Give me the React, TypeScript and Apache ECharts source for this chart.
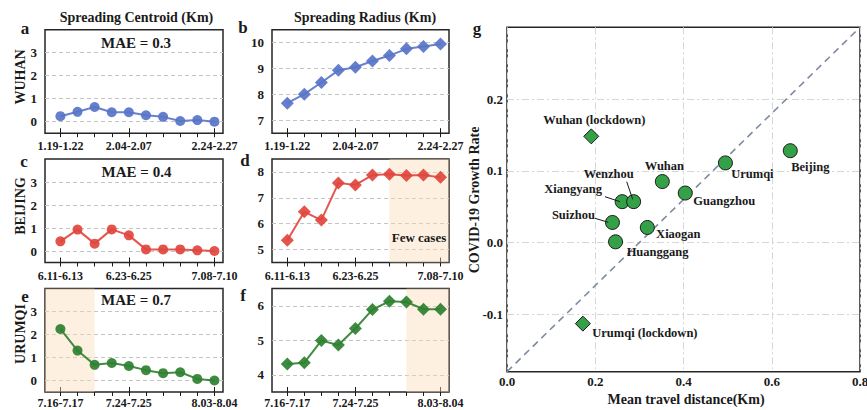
import React, { useEffect, useRef } from 'react';
import * as echarts from 'echarts';

// ---------- data ----------
const periodIndex = [0, 1, 2, 3, 4, 5, 6, 7, 8, 9];
const labelIndex = [0, 4, 9];
const wuhanPeriods = ['1.19-1.22', '2.04-2.07', '2.24-2.27'];
const beijingPeriods = ['6.11-6.13', '6.23-6.25', '7.08-7.10'];
const urumqiPeriods = ['7.16-7.17', '7.24-7.25', '8.03-8.04'];

const wuhanCentroid = [0.24, 0.43, 0.64, 0.41, 0.41, 0.28, 0.21, 0.03, 0.07, 0.0];
const wuhanRadius = [7.66, 8.01, 8.46, 8.93, 9.05, 9.29, 9.5, 9.76, 9.85, 9.95];
const beijingCentroid = [0.42, 0.93, 0.32, 0.94, 0.68, 0.07, 0.07, 0.07, 0.03, 0.0];
const beijingRadius = [5.36, 6.46, 6.14, 7.57, 7.5, 7.88, 7.91, 7.86, 7.88, 7.79];
const urumqiCentroid = [2.24, 1.3, 0.68, 0.76, 0.63, 0.45, 0.32, 0.36, 0.07, 0.0];
const urumqiRadius = [4.31, 4.35, 4.99, 4.86, 5.34, 5.89, 6.13, 6.11, 5.9, 5.9];

const centroidTicks = [0, 1, 2, 3];
const wuhanRadiusTicks = [7, 8, 9, 10];
const beijingRadiusTicks = [5, 6, 7, 8];
const urumqiRadiusTicks = [4, 5, 6];

const maeValues = ['MAE = 0.3', 'MAE = 0.4', 'MAE = 0.7'];

const beijingFewCases = [6, 9.5];
const urumqiEarly = [-0.9, 2];
const urumqiFewCases = [7, 9.5];

const cities = ['Wuhan', 'Guangzhou', 'Urumqi', 'Beijing', 'Xiangyang', 'Wenzhou', 'Suizhou', 'Xiaogan', 'Huanggang'];
const cityDistance = [0.352, 0.404, 0.495, 0.642, 0.261, 0.287, 0.239, 0.318, 0.246];
const cityGrowth = [0.085, 0.069, 0.111, 0.128, 0.057, 0.057, 0.028, 0.021, 0.001];
const lockdownNames = ['Wuhan (lockdown)', 'Urumqi (lockdown)'];
const lockdownDistance = [0.191, 0.172];
const lockdownGrowth = [0.148, -0.113];
const refLineX = [0, 0.8];
const refLineY = [-0.18, 0.3];
const gXTicks = [0, 0.2, 0.4, 0.6, 0.8];
const gYTicks = [-0.1, 0, 0.1, 0.2];

// ---------- styles ----------
const FONT = '"Liberation Serif", "Times New Roman", serif';
const INK = '#1a1a1a';
const BLUE = '#5874c8';
const RED = '#e0453d';
const GREEN = '#2e8030';
const SCATTER_GREEN = '#34a047';
const SHADE = 'rgba(250,220,180,0.42)';

const labelOffsets: Record<string, [number, number]> = {
  'Wuhan (lockdown)': [3, -16],
  Wuhan: [2, -16],
  Guangzhou: [39, 8],
  Urumqi: [27, 11],
  Beijing: [20, 16],
  Xiangyang: [-49, -13],
  Wenzhou: [-25, -28],
  Suizhou: [-39, -7],
  Xiaogan: [31, 7],
  Huanggang: [42, 10],
  'Urumqi (lockdown)': [62, 9],
};

const rowTops = [29.7, 159, 288.5];
const rowH = 103.5;
const rowLabelMargin = [7, 7, 5];

type Panel = {
  values: number[];
  color: string;
  symbol: string;
  size: number;
  ymin: number;
  ymax: number;
  yticks: number[];
  xlabels: string[];
  shade?: number[];
};

const panels: Panel[] = [
  { values: wuhanCentroid, color: BLUE, symbol: 'circle', size: 10, ymin: -0.5, ymax: 4, yticks: centroidTicks, xlabels: wuhanPeriods },
  { values: wuhanRadius, color: BLUE, symbol: 'diamond', size: 13, ymin: 6.5, ymax: 10.5, yticks: wuhanRadiusTicks, xlabels: wuhanPeriods },
  { values: beijingCentroid, color: RED, symbol: 'circle', size: 10, ymin: -0.5, ymax: 4, yticks: centroidTicks, xlabels: beijingPeriods },
  { values: beijingRadius, color: RED, symbol: 'diamond', size: 13, ymin: 4.5, ymax: 8.5, yticks: beijingRadiusTicks, xlabels: beijingPeriods, shade: beijingFewCases },
  { values: urumqiCentroid, color: GREEN, symbol: 'circle', size: 10, ymin: -0.5, ymax: 4, yticks: centroidTicks, xlabels: urumqiPeriods, shade: urumqiEarly },
  { values: urumqiRadius, color: GREEN, symbol: 'diamond', size: 13, ymin: 3.5, ymax: 6.5, yticks: urumqiRadiusTicks, xlabels: urumqiPeriods, shade: urumqiFewCases },
];

function buildOption() {
  const grids: any[] = [];
  const xAxes: any[] = [];
  const yAxes: any[] = [];
  const series: any[] = [];
  const tickStyle = { color: INK, width: 1 };

  panels.forEach((p, i) => {
    const col = i % 2;
    const row = Math.floor(i / 2);
    grids.push({
      left: col === 0 ? 45 : 272,
      top: rowTops[row],
      width: col === 0 ? 178 : 177,
      height: rowH,
      show: true,
      borderColor: '#262626',
      borderWidth: 1.5,
      backgroundColor: 'transparent',
      outerBoundsMode: 'none',
    });
    xAxes.push({
      type: 'value', gridIndex: i, position: 'bottom', min: -0.9, max: 9.5,
      axisLine: { show: false, onZero: false },
      axisTick: { show: true, customValues: periodIndex, length: 4, lineStyle: tickStyle },
      axisLabel: { show: false, customValues: periodIndex },
      splitLine: { show: false },
    });
    xAxes.push({
      type: 'value', gridIndex: i, position: 'bottom', min: -0.9, max: 9.5,
      axisLine: { show: false, onZero: false },
      axisTick: { show: true, inside: true, customValues: labelIndex, length: 5, lineStyle: tickStyle },
      axisLabel: {
        customValues: labelIndex, margin: rowLabelMargin[row],
        formatter: (v: number) => p.xlabels[labelIndex.indexOf(Math.round(v))] ?? '',
        fontFamily: FONT, fontWeight: 'bold', fontSize: 12, color: INK,
      },
      splitLine: { show: false },
    });
    yAxes.push({
      type: 'value', gridIndex: i, min: p.ymin, max: p.ymax,
      axisLine: { show: false, onZero: false },
      axisTick: { show: false, customValues: p.yticks },
      axisLabel: { customValues: p.yticks, margin: 8, fontFamily: FONT, fontWeight: 'bold', fontSize: 13, color: INK },
      splitLine: { show: true, lineStyle: { type: [4, 3], color: '#c4c4c4', width: 1 } },
    });
    const s: any = {
      type: 'line', xAxisIndex: 2 * i, yAxisIndex: i,
      data: p.values.map((v, k) => [periodIndex[k], v]),
      symbol: p.symbol, symbolSize: p.size,
      lineStyle: { color: p.color, width: 2, opacity: 0.9 },
      itemStyle: { color: p.color, opacity: 0.92 },
      z: 3,
    };
    if (p.shade) {
      s.markArea = {
        silent: true,
        itemStyle: { color: SHADE },
        data: [[{ xAxis: p.shade[0] }, { xAxis: p.shade[1] }]],
      };
    }
    series.push(s);
  });

  // panel g
  grids.push({
    left: 507, top: 27.3, width: 353, height: 344.4, show: true,
    borderColor: '#262626', borderWidth: 1.5, backgroundColor: 'transparent', outerBoundsMode: 'none',
  });
  const gSplit = { show: true, lineStyle: { type: [7, 3, 2, 3], color: '#d6d6d6', width: 1 } };
  xAxes.push({
    type: 'value', gridIndex: 6, min: 0, max: 0.8,
    axisLine: { show: false, onZero: false },
    axisTick: { show: false, customValues: gXTicks },
    axisLabel: { customValues: gXTicks, margin: 3, formatter: (v: number) => v.toFixed(1), fontFamily: FONT, fontWeight: 'bold', fontSize: 13, color: INK },
    splitLine: gSplit,
  });
  yAxes.push({
    type: 'value', gridIndex: 6, min: -0.18, max: 0.3,
    axisLine: { show: false, onZero: false },
    axisTick: { show: false, customValues: gYTicks },
    axisLabel: { customValues: gYTicks, margin: 4, formatter: (v: number) => v.toFixed(1), fontFamily: FONT, fontWeight: 'bold', fontSize: 13, color: INK },
    splitLine: gSplit,
  });
  const gx = xAxes.length - 1;
  const gy = yAxes.length - 1;
  series.push({
    type: 'line', xAxisIndex: gx, yAxisIndex: gy,
    data: refLineX.map((x, k) => [x, refLineY[k]]),
    symbol: 'none', lineStyle: { color: '#7d8aa0', width: 1.6, type: [7, 5] }, z: 1, silent: true,
  });
  const scatterLabel = { show: true, position: 'inside', formatter: '{b}', fontFamily: FONT, fontWeight: 'bold', fontSize: 12.5, color: INK };
  series.push({
    type: 'scatter', xAxisIndex: gx, yAxisIndex: gy, symbol: 'circle', symbolSize: 14,
    itemStyle: { color: SCATTER_GREEN, borderColor: INK, borderWidth: 1, opacity: 1 },
    label: scatterLabel,
    data: cities.map((n, k) => ({ name: n, value: [cityDistance[k], cityGrowth[k]], label: { offset: labelOffsets[n] } })),
    z: 4,
  });
  series.push({
    type: 'scatter', xAxisIndex: gx, yAxisIndex: gy, symbol: 'diamond', symbolSize: 15,
    itemStyle: { color: SCATTER_GREEN, borderColor: INK, borderWidth: 1, opacity: 1 },
    label: scatterLabel,
    data: lockdownNames.map((n, k) => ({ name: n, value: [lockdownDistance[k], lockdownGrowth[k]], label: { offset: labelOffsets[n] } })),
    z: 4,
  });

  const txt = (text: string, x: number, y: number, size: number, rotation = 0) => ({
    type: 'text', x, y, rotation, silent: true,
    style: { text, fontFamily: FONT, fontWeight: 'bold', fontSize: size, fill: INK, textAlign: 'center', textVerticalAlign: 'middle' },
    z: 10,
  });
  const ln = (x1: number, y1: number, x2: number, y2: number) => ({
    type: 'line', shape: { x1, y1, x2, y2 }, style: { stroke: INK, lineWidth: 1 }, silent: true, z: 10,
  });

  const graphic = [
    txt('Spreading Centroid (Km)', 136.5, 17, 14),
    txt('Spreading Radius (Km)', 365, 17, 14),
    txt('a', 25, 28, 17), txt('b', 243, 27, 17), txt('g', 477, 28, 17),
    txt('c', 24, 161, 17), txt('d', 245, 160, 17),
    txt('e', 25, 296, 17), txt('f', 243, 295, 17),
    txt('WUHAN', 20, 77, 14, Math.PI / 2),
    txt('BEIJING', 20, 206, 14, Math.PI / 2),
    txt('URUMQI', 20, 334, 14, Math.PI / 2),
    txt(maeValues[0], 136, 43, 15),
    txt(maeValues[1], 136.5, 172, 15),
    txt(maeValues[2], 136, 300, 15),
    txt('Few cases', 419, 237.5, 13),
    txt('COVID-19 Growth Rate', 474, 200, 14, Math.PI / 2),
    txt('Mean travel distance(Km)', 686, 399, 14),
    ln(605, 196.7, 620, 201.7),
    ln(626.7, 181.7, 632.7, 199.3),
    ln(595, 218.3, 608.3, 222.3),
  ];

  return {
    animation: false,
    backgroundColor: '#ffffff',
    grid: grids,
    xAxis: xAxes,
    yAxis: yAxes,
    series,
    graphic,
  };
}

export default function App() {
  const ref = useRef<HTMLDivElement>(null);
  useEffect(() => {
    if (!ref.current) return;
    const chart = echarts.init(ref.current, undefined, { renderer: 'svg' });
    chart.setOption(buildOption() as any);
    return () => chart.dispose();
  }, []);
  return <div ref={ref} style={{ position: 'fixed', left: 0, top: 0, width: 867, height: 410 }} />;
}
